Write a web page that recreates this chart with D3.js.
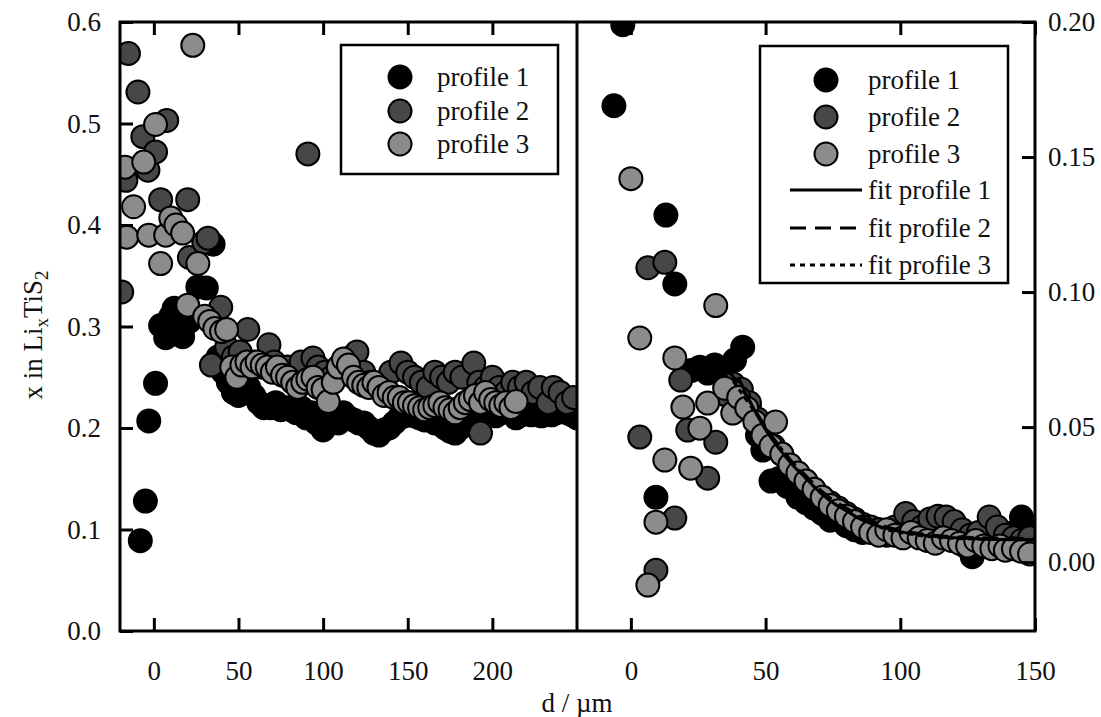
<!DOCTYPE html>
<html><head><meta charset="utf-8">
<script src="https://cdn.jsdelivr.net/npm/d3@7"></script>
<style>
body{margin:0;background:#fff}
text{font-family:"Liberation Serif","Times New Roman",serif;fill:#111}
</style>
</head><body>
<svg id="c" width="1101" height="717"></svg>
<script>
// ---------- DATA ----------
const leftTicksX = [0, 50, 100, 150, 200];
const rightTicksX = [0, 50, 100, 150];
const leftTicksY = [0, 0.1, 0.2, 0.3, 0.4, 0.5, 0.6];
const rightTicksY = [0, 0.05, 0.10, 0.15, 0.20];
const seriesNames = ["profile 1", "profile 2", "profile 3"];
const fitNames = ["fit profile 1", "fit profile 2", "fit profile 3"];

// left panel: [d (µm), x in LixTiS2]
const profile1Left = [[-8,0.089],[-5,0.128],[-3,0.207],[1,0.244],[4,0.301],[7,0.289],[10,0.31],[12,0.318],[15,0.30],[17,0.29],[21,0.305],[26,0.339],[31,0.338],[35,0.381],[38,0.27],[41,0.255],[44,0.245],[47,0.235],[50,0.232],[53,0.245],[56,0.24],[59,0.232],[62,0.225],[65,0.22],[69,0.22],[72,0.225],[75,0.218],[78,0.22],[81,0.218],[84,0.215],[87,0.22],[90,0.21],[93,0.215],[96,0.205],[100,0.198],[103,0.205],[106,0.21],[109,0.205],[112,0.215],[115,0.21],[118,0.208],[121,0.205],[124,0.205],[127,0.2],[130,0.195],[133,0.193],[136,0.198],[139,0.2],[142,0.205],[145,0.21],[148,0.212],[151,0.215],[154,0.212],[157,0.21],[160,0.208],[163,0.21],[166,0.205],[169,0.205],[172,0.2],[175,0.197],[178,0.195],[181,0.2],[184,0.205],[187,0.21],[190,0.21],[193,0.212],[196,0.215],[199,0.215],[202,0.212],[205,0.215],[208,0.218],[211,0.215],[214,0.21],[217,0.213],[220,0.215],[223,0.213],[226,0.215],[229,0.212],[232,0.215],[235,0.213],[238,0.215],[241,0.218],[244,0.215],[247,0.213],[250,0.21]];
const profile2Left = [[-19,0.334],[-16.5,0.444],[-15,0.569],[-9.4,0.531],[-6.5,0.487],[-3.5,0.454],[1,0.472],[4,0.425],[7.6,0.503],[20,0.425],[21,0.368],[29.5,0.383],[32,0.387],[34,0.262],[39.5,0.319],[43,0.28],[47,0.27],[51,0.275],[55.5,0.297],[59,0.265],[63,0.26],[68,0.282],[71,0.265],[75,0.255],[79,0.26],[83,0.25],[87,0.265],[91,0.47],[94,0.269],[97,0.26],[101,0.255],[105,0.25],[109,0.26],[113,0.265],[117,0.27],[120,0.275],[124,0.255],[128,0.245],[132,0.24],[136,0.245],[140,0.255],[146,0.264],[150,0.255],[154,0.25],[158,0.245],[162,0.24],[166,0.255],[170,0.25],[174,0.245],[178,0.255],[182,0.25],[189,0.264],[192,0.245],[193,0.195],[196,0.24],[200,0.25],[204,0.24],[208,0.235],[212,0.245],[216,0.24],[220,0.245],[224,0.235],[228,0.24],[233,0.225],[236,0.24],[240,0.235],[244,0.225],[248,0.23]];
const profile3Left = [[-17,0.457],[-16,0.388],[-12,0.418],[-6,0.462],[-3,0.39],[1,0.499],[4,0.362],[7,0.39],[10,0.407],[13,0.40],[17,0.392],[20,0.321],[23,0.577],[26,0.362],[30,0.31],[33,0.305],[36,0.298],[40,0.295],[43,0.297],[46,0.26],[49,0.25],[52,0.262],[55,0.265],[58,0.26],[61,0.265],[64,0.262],[67,0.26],[70,0.255],[73,0.26],[76,0.252],[79,0.25],[82,0.245],[85,0.24],[88,0.245],[91,0.248],[94,0.25],[97,0.24],[100,0.238],[103,0.226],[106,0.245],[109,0.26],[112,0.268],[115,0.262],[118,0.25],[121,0.245],[124,0.242],[127,0.24],[130,0.245],[133,0.24],[136,0.232],[139,0.235],[142,0.23],[145,0.23],[148,0.225],[151,0.225],[154,0.222],[157,0.22],[160,0.218],[163,0.22],[166,0.222],[169,0.225],[172,0.22],[175,0.218],[178,0.215],[181,0.22],[184,0.225],[187,0.228],[190,0.232],[193,0.225],[196,0.235],[199,0.228],[202,0.225],[205,0.222],[208,0.225],[211,0.22],[214,0.226]];

// right panel: [d (µm), value]
const profile1Right = [[-6.3,0.169],[-3,0.199],[9.3,0.024],[13,0.1285],[16.3,0.103],[22.5,0.071],[25.6,0.0722],[28.5,0.07],[31.1,0.073],[35,0.069],[38.5,0.0748],[41.5,0.0796],[44,0.058],[47,0.047],[49,0.0415],[52,0.030],[55,0.031],[58,0.028],[62,0.024],[65,0.022],[68,0.020],[71,0.018],[74,0.0155],[77,0.017],[80,0.0135],[83,0.012],[86,0.011],[89,0.0115],[92,0.012],[95,0.010],[98,0.012],[101,0.013],[104,0.011],[107,0.010],[110,0.012],[113,0.013],[116,0.010],[119,0.009],[122,0.008],[124,0.006],[126.7,0.002],[130,0.006],[133,0.009],[136,0.008],[139,0.009],[142,0.011],[145,0.0167],[148,0.012]];
const profile2Right = [[6.3,0.109],[12.6,0.111],[3.3,0.0463],[9.3,-0.003],[16.3,0.0163],[18.5,0.0674],[21.1,0.0489],[28.5,0.0311],[31.5,0.0444],[35,0.062],[38,0.066],[41,0.064],[44,0.059],[47,0.053],[50,0.048],[53,0.043],[56,0.040],[59,0.036],[62,0.033],[65,0.030],[68,0.027],[71,0.024],[74,0.022],[77,0.020],[80,0.018],[83,0.016],[86,0.014],[89,0.013],[92,0.012],[95,0.011],[98,0.013],[102,0.018],[105,0.015],[108,0.013],[111,0.016],[114,0.017],[117,0.0167],[120,0.015],[123,0.012],[126,0.010],[129,0.011],[133,0.0167],[136,0.013],[139,0.010],[142,0.009],[145,0.008],[148,0.009]];
const profile3Right = [[0,0.142],[3.3,0.083],[6.3,-0.0085],[9.3,0.0148],[12.6,0.0378],[16.3,0.0756],[19.3,0.0574],[22.2,0.0348],[25.6,0.0496],[28.5,0.0589],[31.5,0.095],[34.8,0.0644],[37.8,0.0552],[40,0.061],[43,0.057],[46,0.052],[49,0.047],[52,0.043],[53.7,0.0519],[56,0.040],[59,0.036],[62,0.033],[65,0.030],[68,0.027],[71,0.024],[74,0.021],[77,0.019],[80,0.017],[83,0.015],[86,0.013],[89,0.011],[92,0.010],[95,0.012],[98,0.010],[101,0.009],[104,0.011],[107,0.009],[110,0.008],[113,0.007],[116,0.009],[119,0.008],[122,0.007],[125,0.006],[128,0.008],[131,0.006],[134,0.005],[137,0.006],[139,0.0044],[142,0.005],[145,0.004],[148,0.003]];

const fit1 = [[40,0.068],[45,0.058],[50,0.049],[55,0.042],[60,0.036],[65,0.031],[70,0.026],[75,0.022],[80,0.019],[85,0.016],[90,0.014],[95,0.0125],[100,0.0113],[110,0.0098],[120,0.0090],[130,0.0086],[140,0.0084],[150,0.0083]];
const fit2 = [[36,0.071],[40,0.066],[45,0.058],[50,0.050],[55,0.043],[60,0.037],[65,0.032],[70,0.027],[75,0.023],[80,0.020],[85,0.017],[90,0.015],[95,0.013],[100,0.0118],[110,0.0102],[120,0.0094],[130,0.0090],[140,0.0088],[150,0.0087]];
const fit3 = [[38,0.067],[45,0.057],[50,0.050],[55,0.043],[60,0.037],[65,0.031],[70,0.026],[75,0.022],[80,0.019],[85,0.016],[90,0.014],[95,0.012],[100,0.011],[110,0.0095],[120,0.0088],[130,0.0085],[140,0.0083],[150,0.0082]];

// ---------- STYLE ----------
const fills = ["#000000", "#474747", "#8c8c8c"];
const dashes = [null, "16,9", "5,5"];
const R = 11.5, FS = 27;

const svg = d3.select("#c");
const pTop = 22, pBottom = 631, pLeft = 120, pMid = 577, pRight = 1035;

const xL = d3.scaleLinear().domain([-20, 250]).range([pLeft, pMid]);
const yL = d3.scaleLinear().domain([0, 0.6]).range([pBottom, pTop]);
const xR = d3.scaleLinear().domain([-20, 150]).range([pMid, pRight]);
const yR = d3.scaleLinear().domain([-0.0255, 0.2]).range([pBottom, pTop]);

const defs = svg.append("defs");
defs.append("clipPath").attr("id", "clipL").append("rect")
  .attr("x", pLeft).attr("y", pTop).attr("width", pMid - pLeft).attr("height", pBottom - pTop);
defs.append("clipPath").attr("id", "clipR").append("rect")
  .attr("x", pMid).attr("y", pTop).attr("width", pRight - pMid).attr("height", pBottom - pTop);

function drawPoints(g, data, xs, ys, i) {
  g.selectAll(null).data(data).enter().append("circle")
    .attr("cx", d => xs(d[0])).attr("cy", d => ys(d[1])).attr("r", R)
    .attr("fill", fills[i]).attr("stroke", "#000").attr("stroke-width", 2);
}

const gL = svg.append("g").attr("clip-path", "url(#clipL)");
[profile1Left, profile2Left, profile3Left].forEach((d, i) => drawPoints(gL, d, xL, yL, i));

const gR = svg.append("g").attr("clip-path", "url(#clipR)");
[profile1Right, profile2Right, profile3Right].forEach((d, i) => drawPoints(gR, d, xR, yR, i));

const fitLine = d3.line().x(d => xR(d[0])).y(d => yR(d[1])).curve(d3.curveMonotoneX);
[fit1, fit2, fit3].forEach((d, i) => {
  gR.append("path").attr("d", fitLine(d)).attr("fill", "none").attr("stroke", "#000")
    .attr("stroke-width", 3).attr("stroke-dasharray", dashes[i]);
});

// ---------- AXES ----------
function styleAxis(g) {
  g.select(".domain").remove();
  g.selectAll(".tick line").attr("stroke", "#000").attr("stroke-width", 3);
  g.selectAll(".tick text").attr("font-size", FS).attr("font-family", "Liberation Serif").attr("fill", "#111");
}
svg.append("g").attr("transform", `translate(0,${pBottom})`)
  .call(d3.axisBottom(xL).tickValues(leftTicksX).tickSize(-13).tickPadding(30).tickFormat(d3.format("d"))).call(styleAxis);
svg.append("g").attr("transform", `translate(0,${pTop})`)
  .call(d3.axisTop(xL).tickValues(leftTicksX).tickSize(-13).tickFormat("")).call(styleAxis);
svg.append("g").attr("transform", `translate(${pLeft},0)`)
  .call(d3.axisLeft(yL).tickValues(leftTicksY).tickSize(-13).tickPadding(19).tickFormat(d3.format(".1f"))).call(styleAxis);

svg.append("g").attr("transform", `translate(0,${pBottom})`)
  .call(d3.axisBottom(xR).tickValues(rightTicksX).tickSize(-13).tickPadding(30).tickFormat(d3.format("d"))).call(styleAxis);
svg.append("g").attr("transform", `translate(0,${pTop})`)
  .call(d3.axisTop(xR).tickValues(rightTicksX).tickSize(-13).tickFormat("")).call(styleAxis);
svg.append("g").attr("transform", `translate(${pRight},0)`)
  .call(d3.axisRight(yR).tickValues(rightTicksY).tickSize(-13).tickPadding(13).tickFormat(d3.format(".2f"))).call(styleAxis);

// frame
svg.append("rect").attr("x", pLeft).attr("y", pTop).attr("width", pRight - pLeft).attr("height", pBottom - pTop)
  .attr("fill", "none").attr("stroke", "#000").attr("stroke-width", 3);
svg.append("line").attr("x1", pMid).attr("x2", pMid).attr("y1", pTop).attr("y2", pBottom)
  .attr("stroke", "#000").attr("stroke-width", 3);

// axis titles
svg.append("text").attr("x", pMid).attr("y", 712).attr("text-anchor", "middle")
  .attr("font-size", FS).text("d / µm");
const yt = svg.append("text").attr("transform", "translate(42,335) rotate(-90)")
  .attr("text-anchor", "middle").attr("font-size", FS);
yt.append("tspan").text("x in Li");
yt.append("tspan").attr("font-size", 19).attr("dy", 6).text("x");
yt.append("tspan").attr("dy", -6).text("TiS");
yt.append("tspan").attr("font-size", 19).attr("dy", 6).text("2");

// ---------- LEGENDS ----------
function legend(x0, y0, w, h, mx, tx, rows, withFits, lineRows) {
  const g = svg.append("g");
  g.append("rect").attr("x", x0).attr("y", y0).attr("width", w).attr("height", h)
    .attr("fill", "#fff").attr("stroke", "#000").attr("stroke-width", 2.5);
  seriesNames.forEach((n, i) => {
    g.append("circle").attr("cx", mx).attr("cy", rows[i]).attr("r", R)
      .attr("fill", fills[i]).attr("stroke", "#000").attr("stroke-width", 2);
    g.append("text").attr("x", tx).attr("y", rows[i]).attr("dy", "0.35em")
      .attr("font-size", FS).text(n);
  });
  if (withFits) {
    fitNames.forEach((n, i) => {
      g.append("line").attr("x1", tx - 78).attr("x2", tx - 6).attr("y1", lineRows[i]).attr("y2", lineRows[i])
        .attr("stroke", "#000").attr("stroke-width", 3).attr("stroke-dasharray", dashes[i]);
      g.append("text").attr("x", tx).attr("y", lineRows[i]).attr("dy", "0.35em")
        .attr("font-size", FS).text(n);
    });
  }
}
legend(341, 45, 217, 129, 400, 437, [77, 111, 144], false);
legend(760, 46, 248, 237, 826, 868, [80, 117, 154], true, [190, 228, 265]);
</script>
</body></html>
